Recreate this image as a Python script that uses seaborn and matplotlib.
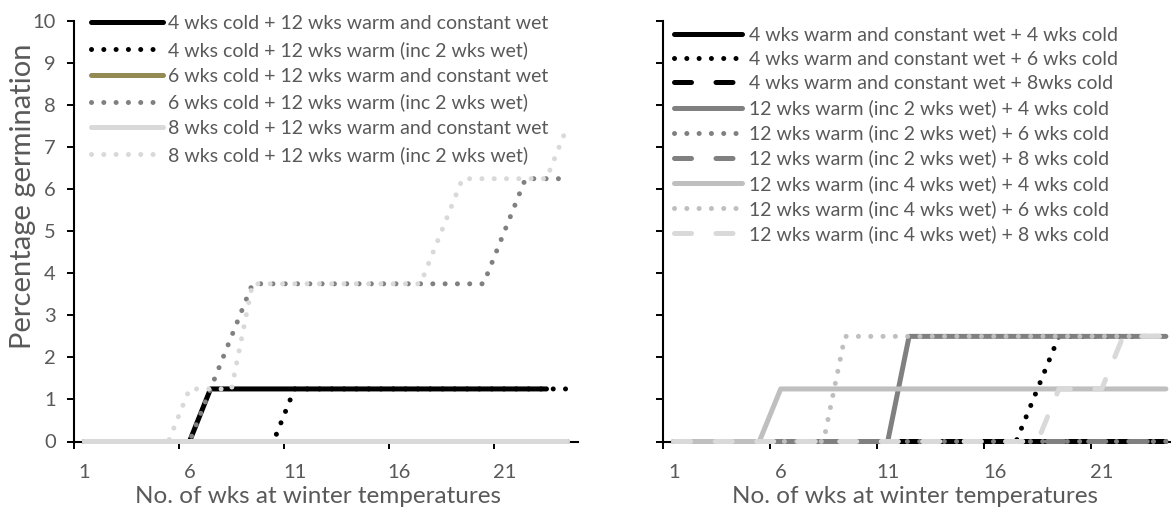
import matplotlib
matplotlib.use("Agg")
import matplotlib.pyplot as plt
import seaborn as sns

sns.set_theme(style="white")
plt.rcParams['font.family'] = ['Lato', 'DejaVu Sans']
plt.rcParams['lines.dash_capstyle'] = 'round'
plt.rcParams['lines.solid_capstyle'] = 'round'

TEXT = '#595959'

# ---------------- data ----------------
weeks = [1, 2, 3, 4, 5, 6, 7, 8, 9, 10, 11, 12, 13, 14, 15, 16, 17, 18, 19, 20, 21, 22, 23, 24]
tick_labels = ['1', '6', '11', '16', '21']
yticks = [0, 1, 2, 3, 4, 5, 6, 7, 8, 9, 10]

left_labels = [
    '4 wks cold + 12 wks warm and constant wet',
    '4 wks cold + 12 wks warm (inc 2 wks wet)',
    '6 wks cold + 12 wks warm and constant wet',
    '6 wks cold + 12 wks warm (inc 2 wks wet)',
    '8 wks cold + 12 wks warm and constant wet',
    '8 wks cold + 12 wks warm (inc 2 wks wet)',
]
# weeks 1..23 only
l_4c_const = [0, 0, 0, 0, 0, 0, 1.25, 1.25, 1.25, 1.25, 1.25, 1.25, 1.25, 1.25, 1.25, 1.25, 1.25, 1.25, 1.25, 1.25, 1.25, 1.25, 1.25]
l_4c_inc2 = [0, 0, 0, 0, 0, 0, 0, 0, 0, 0, 1.25, 1.25, 1.25, 1.25, 1.25, 1.25, 1.25, 1.25, 1.25, 1.25, 1.25, 1.25, 1.25, 1.25]
l_6c_const = [0, 0, 0, 0, 0, 0, 0, 0, 0, 0, 0, 0, 0, 0, 0, 0, 0, 0, 0, 0, 0, 0, 0, 0]
l_6c_inc2 = [0, 0, 0, 0, 0, 0, 1.25, 2.5, 3.75, 3.75, 3.75, 3.75, 3.75, 3.75, 3.75, 3.75, 3.75, 3.75, 3.75, 3.75, 5.0, 6.25, 6.25, 6.25]
l_8c_const = [0, 0, 0, 0, 0, 0, 0, 0, 0, 0, 0, 0, 0, 0, 0, 0, 0, 0, 0, 0, 0, 0, 0, 0]
l_8c_inc2 = [0, 0, 0, 0, 0, 1.25, 1.25, 1.25, 3.75, 3.75, 3.75, 3.75, 3.75, 3.75, 3.75, 3.75, 3.75, 5.0, 6.25, 6.25, 6.25, 6.25, 6.25, 7.5]

right_labels = [
    '4 wks warm and constant wet + 4 wks cold',
    '4 wks warm and constant wet + 6 wks cold',
    '4 wks warm and constant wet + 8wks cold',
    '12 wks warm (inc 2 wks wet) + 4 wks cold',
    '12 wks warm (inc 2 wks wet) + 6 wks cold',
    '12 wks warm (inc 2 wks wet) + 8 wks cold',
    '12 wks warm (inc 4 wks wet) + 4 wks cold',
    '12 wks warm (inc 4 wks wet) + 6 wks cold',
    '12 wks warm (inc 4 wks wet) + 8 wks cold',
]
r_4w_4c = [0, 0, 0, 0, 0, 0, 0, 0, 0, 0, 0, 0, 0, 0, 0, 0, 0, 0, 0, 0, 0, 0, 0, 0]
r_4w_6c = [0, 0, 0, 0, 0, 0, 0, 0, 0, 0, 0, 0, 0, 0, 0, 0, 0, 1.25, 2.5, 2.5, 2.5, 2.5, 2.5, 2.5]
r_4w_8c = [0, 0, 0, 0, 0, 0, 0, 0, 0, 0, 0, 0, 0, 0, 0, 0, 0, 0, 0, 0, 0, 0, 0, 0]
r_2w_4c = [0, 0, 0, 0, 0, 0, 0, 0, 0, 0, 0, 2.5, 2.5, 2.5, 2.5, 2.5, 2.5, 2.5, 2.5, 2.5, 2.5, 2.5, 2.5, 2.5]
r_2w_6c = [0, 0, 0, 0, 0, 0, 0, 0, 0, 0, 0, 0, 0, 0, 0, 0, 0, 0, 0, 0, 0, 0, 0, 0]
r_2w_8c = [0, 0, 0, 0, 0, 0, 0, 0, 0, 0, 0, 0, 0, 0, 0, 0, 0, 0, 0, 0, 0, 0, 0, 0]
r_4wet_4c = [0, 0, 0, 0, 0, 1.25, 1.25, 1.25, 1.25, 1.25, 1.25, 1.25, 1.25, 1.25, 1.25, 1.25, 1.25, 1.25, 1.25, 1.25, 1.25, 1.25, 1.25, 1.25]
r_4wet_6c = [0, 0, 0, 0, 0, 0, 0, 0, 2.5, 2.5, 2.5, 2.5, 2.5, 2.5, 2.5, 2.5, 2.5, 2.5, 2.5, 2.5, 2.5, 2.5, 2.5, 2.5]
r_4wet_8c = [0, 0, 0, 0, 0, 0, 0, 0, 0, 0, 0, 0, 0, 0, 0, 0, 0, 0, 1.25, 1.25, 1.25, 2.5, 2.5, 2.5]

left_series = [l_4c_const, l_4c_inc2, l_6c_const, l_6c_inc2, l_8c_const, l_8c_inc2]
right_series = [r_4w_4c, r_4w_6c, r_4w_8c, r_2w_4c, r_2w_6c, r_2w_8c, r_4wet_4c, r_4wet_6c, r_4wet_8c]

# ---------------- styles ----------------
SOLID = '-'
DOT = (0, (0.01, 2.45))
DASH = (0, (3.4, 4.9))
LW = 3.6  # = 5 px at 100 dpi

left_colors = ['#000000', '#000000', '#948A54', '#808080', '#D9D9D9', '#D9D9D9']
left_styles = [SOLID, DOT, SOLID, DOT, SOLID, DOT]
right_colors = ['#000000', '#000000', '#000000', '#808080', '#808080', '#808080',
                '#BFBFBF', '#BFBFBF', '#D9D9D9']
right_styles = [SOLID, DOT, DASH, SOLID, DOT, DASH, SOLID, DOT, DASH]

W, H = 1171, 512
fig = plt.figure(figsize=(W / 100, H / 100), dpi=100)
axL = fig.add_axes([74 / W, 70.5 / H, 504 / W, 420.5 / H])
axR = fig.add_axes([663 / W, 70.5 / H, 513.6 / W, 420.5 / H])


def draw(ax, series, labels, colors, styles):
    for vals, lab, col, ls in zip(series, labels, colors, styles):
        sns.lineplot(x=weeks[:len(vals)], y=vals, ax=ax, color=col, linewidth=LW,
                     linestyle=ls, label=lab, clip_on=False, zorder=3, snap=False,
                     dash_capstyle='round', solid_capstyle='round', legend=False)
    ax.set_xlim(0.5, 24.5)
    ax.set_ylim(0, 10)
    for s in ['top', 'right']:
        ax.spines[s].set_visible(False)
    for s in ['left', 'bottom']:
        ax.spines[s].set_color('black')
        ax.spines[s].set_linewidth(1.5)
    ax.set_xticks([0.5, 5.5, 10.5, 15.5, 20.5])
    ax.set_xticklabels([])
    ax.set_xticks([1, 6, 11, 16, 21], minor=True)
    ax.set_xticklabels(tick_labels, minor=True)
    ax.tick_params(axis='x', which='major', direction='out', length=5, width=1.4,
                   color='black', bottom=True)
    ax.tick_params(axis='x', which='minor', length=0, pad=16, labelsize=14.5,
                   labelcolor=TEXT, bottom=True)
    ax.set_yticks(yticks)
    ax.tick_params(axis='y', direction='out', length=5, width=1.4, color='black',
                   pad=8, labelsize=14.5, labelcolor=TEXT, left=True)
    ax.set_xlabel('')
    ax.set_ylabel('')
    ax.grid(False)


draw(axL, left_series, left_labels, left_colors, left_styles)
draw(axR, right_series, right_labels, right_colors, right_styles)
axR.set_yticklabels([])

axL.legend(loc='upper left', bbox_to_anchor=(91 / W, 1 - 15.1 / H),
           bbox_transform=fig.transFigure, frameon=False, fontsize=14,
           labelcolor=TEXT, handlelength=3.7, handletextpad=0.26,
           borderpad=0, borderaxespad=0, labelspacing=0.455)
axR.legend(loc='upper left', bbox_to_anchor=(674 / W, 1 - 26.9 / H),
           bbox_transform=fig.transFigure, frameon=False, fontsize=14,
           labelcolor=TEXT, handlelength=3.5, handletextpad=0.35,
           borderpad=0, borderaxespad=0, labelspacing=0.37)

fig.text(318 / W, 1 - 503 / H, 'No. of wks at winter temperatures', ha='center',
         va='baseline', fontsize=17.5, color=TEXT)
fig.text(915 / W, 1 - 503 / H, 'No. of wks at winter temperatures', ha='center',
         va='baseline', fontsize=17.5, color=TEXT)
fig.text(23 / W, 1 - 196 / H, 'Percentage germination', ha='center', va='center',
         rotation=90, fontsize=21, color=TEXT)

fig.savefig('out.png', dpi=100)
